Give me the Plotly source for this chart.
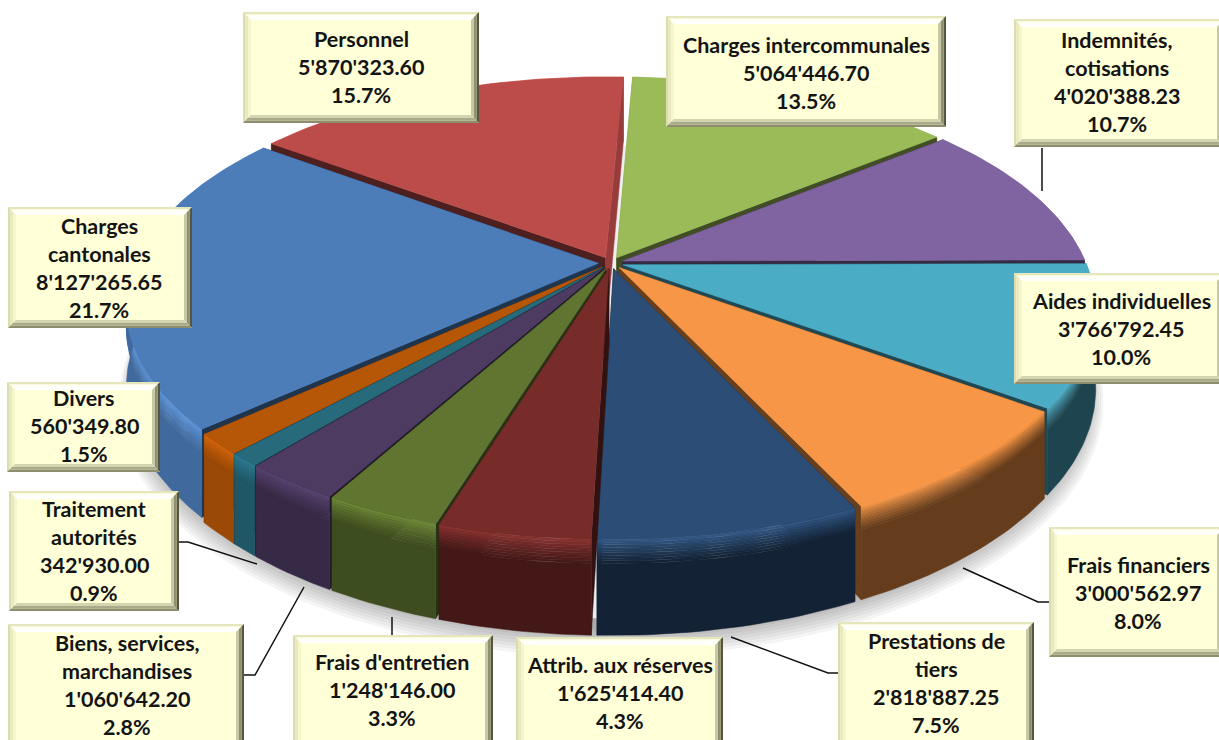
import numpy as np
import plotly.graph_objects as go

# ---- data -------------------------------------------------------------
categories = ["Charges intercommunales", "Indemnités, cotisations", "Aides individuelles",
              "Frais financiers", "Prestations de tiers", "Attrib. aux réserves",
              "Frais d'entretien", "Biens, services, marchandises", "Traitement autorités",
              "Divers", "Charges cantonales", "Personnel"]
values = [5064446.70, 4020388.23, 3766792.45, 3000562.97, 2818887.25, 1625414.40,
          1248146.00, 1060642.20, 342930.00, 560349.80, 8127265.65, 5870323.60]
name_lines = [["Charges intercommunales"], ["Indemnités,", "cotisations"], ["Aides individuelles"],
              ["Frais financiers"], ["Prestations de", "tiers"], ["Attrib. aux réserves"],
              ["Frais d'entretien"], ["Biens, services,", "marchandises"], ["Traitement", "autorités"],
              ["Divers"], ["Charges", "cantonales"], ["Personnel"]]
colors = ["#9BBB59", "#8064A2", "#4BACC6", "#F79646", "#2C4D75", "#772C2A",
          "#5F7530", "#4D3B62", "#276A7C", "#B65708", "#4C7DB9", "#BC4C4A"]

# ---- look -------------------------------------------------------------
CX, CY, A, B, K, D, E = 611, 263, 463, 217, 0.19, 77, 0.027
START = 2.5
WALL_T = [0, 90, 140, 168, 190, 203, 214, 220, 225, 250, 360]
WALL_F = [.4, .4, .41, .45, .57, .66, .72, .82, .85, .85, .85]
# x0, y0, x1, y1, label centre x, first line centre y
boxes = [(666, 16, 946, 127, 806, 46), (1014, 19, 1225, 147, 1117, 41), (1014, 273, 1225, 384, 1121, 302),
         (1049, 527, 1225, 657, 1138, 566), (838, 622, 1034, 748, 936, 642), (516, 637, 723, 748, 620, 666),
         (293, 635, 493, 748, 392, 663), (8, 624, 244, 748, 127, 644), (9, 491, 179, 611, 94, 510),
         (7, 382, 160, 472, 84, 399), (8, 207, 192, 328, 99, 227), (243, 12, 479, 123, 361, 40)]
leaders = [[(1042, 148), (1042, 191)], [(963, 568), (1038, 602), (1049, 602)],
           [(731, 637), (828, 673), (838, 673)], [(392, 617), (392, 635)],
           [(304, 587), (255, 675), (244, 675)], [(257, 564), (188, 542), (179, 542)]]
LINE_H = 28.2
TEXT_DY = -1.5


def rgb(h):
    return np.array([int(h[i:i + 2], 16) for i in (1, 3, 5)], float)


def css(c):
    c = np.clip(c, 0, 255)
    return "rgb(%d,%d,%d)" % tuple(c)


def proj(th, r=1.0, depth=0.0, ox=0.0, oy=0.0):
    u = r * np.sin(np.radians(th)) + ox
    v = -r * np.cos(np.radians(th)) + oy
    w = 1 - K * v
    return CX + A * u / w, CY + (B * v + depth) / w


fig = go.Figure()


def poly(xs, ys, color, name=""):
    fig.add_trace(go.Scatter(x=list(xs) + [xs[0]], y=list(ys) + [ys[0]], mode="lines", fill="toself",
                             fillcolor=color, line=dict(color=color, width=0.5), hoverinfo="skip",
                             name=name, showlegend=False))


# soft shadow under the pie, kept light where the gaps between slices show through
circle = np.linspace(0, 360, 181)
for i in range(10):
    sx, sy = proj(circle, 1.004 + i * 0.0042, D + 1 + i * 1.3)
    poly(sx, sy, "rgba(60,60,60,0.05)", "shadow")
sx, sy = proj(circle, 0.985, D - 2)
poly(sx, sy, "rgb(238,238,238)", "shadow")

total = sum(values)
spans = [v / total * 360 for v in values]
starts = START + np.concatenate([[0], np.cumsum(spans)[:-1]])
mids = starts + np.array(spans) / 2
order = np.argsort(-np.cos(np.radians(mids)))


def draw_outer(i, arc, mid, top, ox, oy):
    # outer wall: solid colour with a rim gradient under the top edge
    wall = top * np.interp(mid % 360, WALL_T, WALL_F)
    rim = top * (1.2 if top.mean() < 130 else 1.03)
    stops = np.linspace(0, 0.25, 10)
    for s0, s1 in zip(stops[:-1], stops[1:]):
        m = ((s0 + s1) / 2 / 0.25) ** 0.8
        x0, y0 = proj(arc, 1.0, D * s0, ox, oy)
        x1, y1 = proj(arc, 1.0, D * s1, ox, oy)
        poly(np.r_[x0, x1[::-1]], np.r_[y0, y1[::-1]], css(rim * (1 - m) + wall * m), categories[i])
    x0, y0 = proj(arc, 1.0, D * .25, ox, oy)
    x1, y1 = proj(arc, 1.0, D, ox, oy)
    poly(np.r_[x0, x1[::-1]], np.r_[y0, y1[::-1]], css(wall), categories[i])


def draw_radial(i, th0, th1, top, ox, oy):
    for th in (th0, th1):
        f = 0.8 if abs(np.sin(np.radians(th))) < 0.1 and np.cos(np.radians(th)) > 0 else 0.42
        xa, ya = proj(th, 0.0, 0, ox, oy)
        xb, yb = proj(th, 1.0, 0, ox, oy)
        xc, yc = proj(th, 1.0, D, ox, oy)
        xd, yd = proj(th, 0.0, D, ox, oy)
        poly([xa, xb, xc, xd], [ya, yb, yc, yd], css(top * f), categories[i])


for i in order:
    th0, th1, mid = starts[i], starts[i] + spans[i], mids[i]
    top = rgb(colors[i])
    ox, oy = E * np.sin(np.radians(mid)), -E * np.cos(np.radians(mid))
    arc = np.linspace(th0, th1, max(3, int(spans[i])))

    if np.cos(np.radians(mid)) > 0:      # slices at the back
        draw_outer(i, arc, mid, top, ox, oy)
        draw_radial(i, th0, th1, top, ox, oy)
    else:                                # slices at the front
        draw_radial(i, th0, th1, top, ox, oy)
        draw_outer(i, arc, mid, top, ox, oy)

    # top surface
    xt, yt = proj(arc, 1.0, 0, ox, oy)
    xa, ya = proj(0, 0.0, 0, ox, oy)
    poly(np.r_[xa, xt], np.r_[ya, yt], css(top), categories[i])

# ---- leader lines and labels -------------------------------------------
shapes = []
for pts in leaders:
    path = "M" + " L".join("%g,%g" % p for p in pts)
    shapes.append(dict(type="path", path=path, line=dict(color="#111111", width=1.5), xref="x", yref="y"))


def quad(p, col):
    path = "M" + " L".join("%g,%g" % q for q in p) + " Z"
    shapes.append(dict(type="path", path=path, fillcolor=col, line=dict(width=0), xref="x", yref="y"))


for (x0, y0, x1, y1, _, _) in boxes:
    quad([(x0, y0), (x1, y0), (x1, y1), (x0, y1)], "#FFFFD8")
    layers = [(0.0, 2.5, "#E6E6BC", "#DCDCAE", "#56563F", "#8E8E6E"),
              (2.5, 5.0, "#FFFFF4", "#E9E9BF", "#8F8F72", "#A9A98B"),
              (5.0, 8.0, "#FFFFFF", "#F6F6CC", "#C8C8A4", "#D4D4AE")]
    for a, b, ct, cl, cr, cb in layers:
        quad([(x0 + a, y0 + a), (x1 - a, y0 + a), (x1 - b, y0 + b), (x0 + b, y0 + b)], ct)
        quad([(x0 + a, y0 + a), (x0 + b, y0 + b), (x0 + b, y1 - b), (x0 + a, y1 - a)], cl)
        quad([(x1 - a, y0 + a), (x1 - b, y0 + b), (x1 - b, y1 - b), (x1 - a, y1 - a)], cr)
        quad([(x0 + a, y1 - a), (x1 - a, y1 - a), (x1 - b, y1 - b), (x0 + b, y1 - b)], cb)

annotations = []
for i, box in enumerate(boxes):
    amount = f"{values[i]:,.2f}".replace(",", "'")
    pct = f"{values[i] / total * 100:.1f}%"
    lines = name_lines[i] + [amount, pct]
    for j, t in enumerate(lines):
        annotations.append(dict(x=box[4], y=box[5] + TEXT_DY + j * LINE_H, text=t, showarrow=False,
                                xref="x", yref="y", xanchor="center", yanchor="middle",
                                font=dict(family="Lato", size=21.5, color="#141414", weight="bold")))

fig.update_layout(width=1219, height=740, margin=dict(l=0, r=0, t=0, b=0), paper_bgcolor="white",
                  plot_bgcolor="white", showlegend=False, shapes=shapes, annotations=annotations,
                  xaxis=dict(range=[0, 1219], visible=False, fixedrange=True),
                  yaxis=dict(range=[740, 0], visible=False, fixedrange=True))

fig.write_html("out.html", config=dict(displayModeBar=False),
               post_script="document.body.style.margin='0';document.body.style.overflow='hidden';")
